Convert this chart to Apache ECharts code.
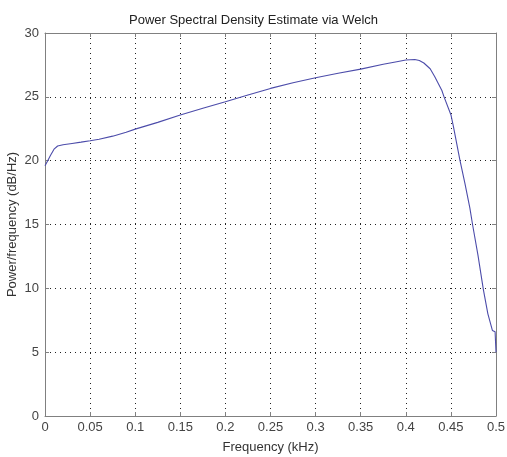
<!DOCTYPE html>
<html>
<head>
<meta charset="utf-8">
<script src="https://cdn.jsdelivr.net/npm/echarts@6/dist/echarts.min.js"></script>
<style>
html, body { margin: 0; padding: 0; background: #fff; }
#main { width: 507px; height: 457px; }
</style>
</head>
<body>
<div id="main"></div>
<script>
// 频率 (kHz) 与功率谱密度 (dB/Hz)
var freq = [0, 0.003, 0.006, 0.01, 0.014, 0.02, 0.03, 0.04, 0.05, 0.06, 0.075, 0.09, 0.1,
	0.125, 0.15, 0.175, 0.2, 0.225, 0.25, 0.275, 0.3, 0.325, 0.35, 0.375, 0.39, 0.4, 0.41,
	0.415, 0.42, 0.427, 0.432, 0.436, 0.44, 0.4424, 0.45, 0.4527, 0.46, 0.4656, 0.471, 0.474,
	0.48, 0.486, 0.491, 0.496, 0.499, 0.5];
var psd = [19.6, 20.0, 20.4, 20.9, 21.15, 21.25, 21.35, 21.45, 21.56, 21.68, 21.92, 22.22, 22.47,
	23.0, 23.57, 24.1, 24.61, 25.15, 25.66, 26.1, 26.5, 26.85, 27.17, 27.55, 27.75, 27.88, 27.93,
	27.85, 27.65, 27.2, 26.6, 26.05, 25.5, 25.0, 23.6, 22.7, 20.05, 18.2, 16.3, 15.0,
	12.6, 9.9, 8.0, 6.7, 6.6, 5.0];

var titleText = 'Power Spectral Density Estimate via Welch';
var xName = 'Frequency (kHz)';
var yName = 'Power/frequency (dB/Hz)';

var myChart = echarts.init(document.getElementById('main'));

var fontFam = '"Liberation Sans", Arial, sans-serif';
var boxLine = { show: true, onZero: false, lineStyle: { color: '#808080', width: 1 } };
var tick = { show: true, inside: true, length: 4, lineStyle: { color: '#808080' } };
var dotted = { show: true, showMinLine: false, showMaxLine: false,
	lineStyle: { color: '#222', type: [1, 4], width: 1 } };

var option = {
	animation: false,
	backgroundColor: '#fff',
	title: {
		text: titleText,
		left: 'center',
		top: 9,
		textStyle: { fontFamily: fontFam, fontSize: 13, fontWeight: 'normal', color: '#222' }
	},
	grid: { left: 45, right: 11, top: 33, bottom: 41, outerBoundsMode: 'none' },
	xAxis: [{
		type: 'value',
		min: 0,
		max: 0.5,
		interval: 0.05,
		name: xName,
		nameLocation: 'middle',
		nameGap: 25,
		nameMoveOverlap: false,
		nameTextStyle: { fontFamily: fontFam, fontSize: 13, color: '#333' },
		axisLine: boxLine,
		axisTick: tick,
		axisLabel: { fontFamily: fontFam, fontSize: 13, color: '#444', margin: 5,
			formatter: function(v) { return String(+v.toFixed(2)); } },
		splitLine: dotted
	}, {
		type: 'value',
		position: 'top',
		min: 0,
		max: 0.5,
		interval: 0.05,
		axisLine: boxLine,
		axisTick: tick,
		axisLabel: { show: false },
		splitLine: { show: false }
	}],
	yAxis: [{
		type: 'value',
		min: 0,
		max: 30,
		interval: 5,
		name: yName,
		nameLocation: 'middle',
		nameGap: 26,
		nameMoveOverlap: false,
		nameTextStyle: { fontFamily: fontFam, fontSize: 13, color: '#333' },
		axisLine: boxLine,
		axisTick: tick,
		axisLabel: { fontFamily: fontFam, fontSize: 13, color: '#444', margin: 6 },
		splitLine: dotted
	}, {
		type: 'value',
		position: 'right',
		min: 0,
		max: 30,
		interval: 5,
		axisLine: boxLine,
		axisTick: tick,
		axisLabel: { show: false },
		splitLine: { show: false }
	}],
	series: [{
		type: 'line',
		xAxisIndex: 0,
		yAxisIndex: 0,
		showSymbol: false,
		smooth: false,
		lineStyle: { color: '#4c4caa', width: 1.1 },
		data: freq.map(function(f, i) { return [f, psd[i]]; })
	}]
};
myChart.setOption(option);
</script>
</body>
</html>
